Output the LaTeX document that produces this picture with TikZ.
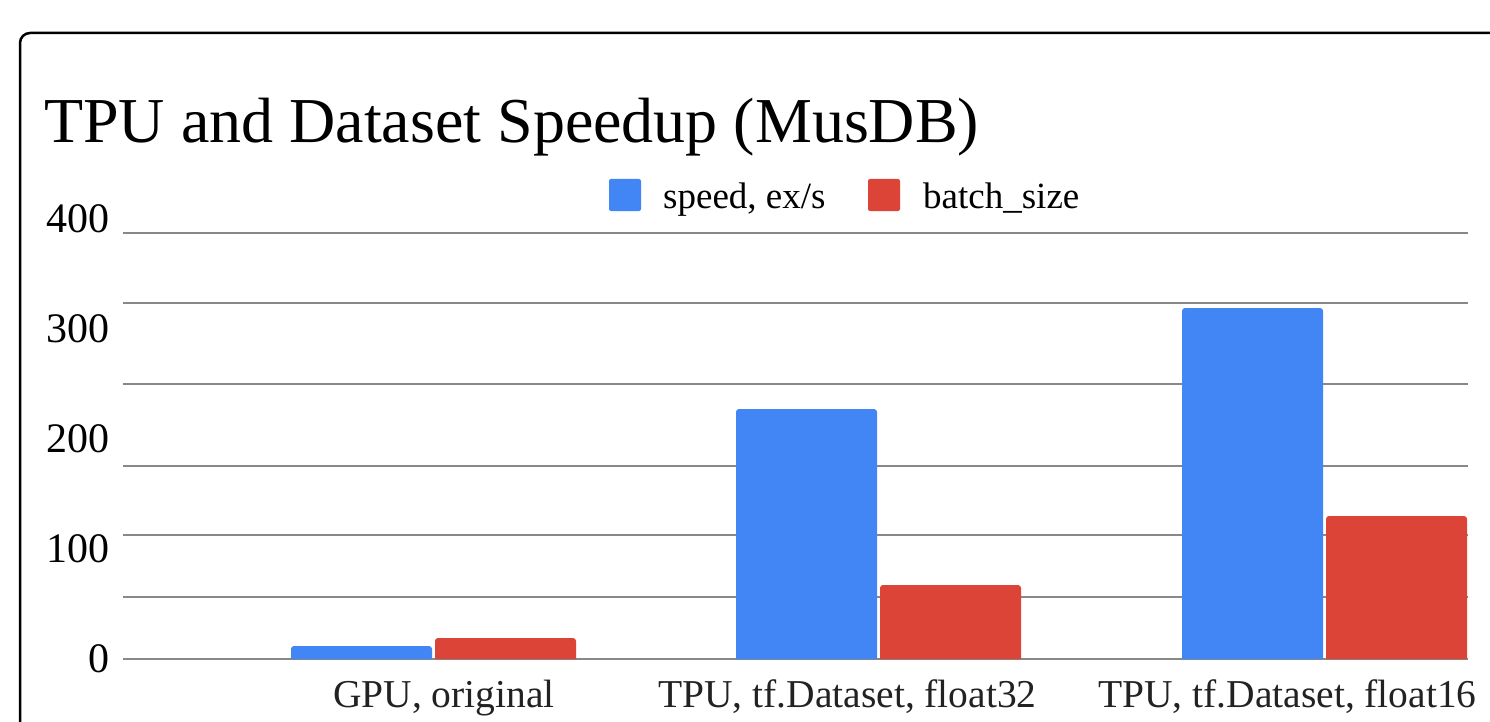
\documentclass[tikz,border=0pt]{standalone}
\usepackage{fontspec}
\setmainfont{Liberation Serif}
\definecolor{gblue}{HTML}{4285F4}
\definecolor{gred}{HTML}{DB4437}
\definecolor{gridc}{HTML}{888888}
\definecolor{labc}{HTML}{222222}
\tikzset{
  grid line/.style={draw=gridc, line width=2pt},
  ylab/.style={anchor=base east, inner sep=0pt, font=\fontsize{42}{42}\selectfont},
  catlab/.style={anchor=base west, inner sep=0pt, text=labc, font=\fontsize{39.5}{39.5}\selectfont},
  leglab/.style={anchor=base west, inner sep=0pt, font=\fontsize{37}{37}\selectfont},
}
\newcommand{\chartbar}[4]{% x1, x2, top, colour
  \fill[#4] (#1,659) [rounded corners=3pt] -- (#1,#3) -- (#2,#3) [sharp corners] -- (#2,659) -- cycle;
}
\begin{document}
\begin{tikzpicture}[x=1pt,y=-1pt]
\useasboundingbox (0,0) rectangle (1490,722);
\clip (0,0) rectangle (1490,722);
\fill[white] (0,0) rectangle (1490,722);
% card border
\draw[black, line width=2.5pt, rounded corners=10pt] (20,33) rectangle (1530,760);
% title
\node[anchor=base west, inner sep=0pt, font=\fontsize{64}{64}\selectfont] (title) at (44,143) {TPU and Dataset Speedup (MusDB)};
% legend
\fill[gblue, rounded corners=2pt] (609,179) rectangle (641,211);
\node[leglab] (lg1) at (663,208) {speed, ex/s};
\fill[gred, rounded corners=2pt] (868,179) rectangle (900,211);
\node[leglab] (lg2) at (923,208) {batch\_size};
% gridlines
\foreach \yy in {232.5,302.5,383.5,465.5,534.5,596.5,659} {
  \draw[grid line] (123,\yy) -- (1468,\yy);
}
% y labels
\node[ylab] (y400) at (110,232) {400};
\node[ylab] (y300) at (110,342) {300};
\node[ylab] (y200) at (110,452) {200};
\node[ylab] (y100) at (110,562) {100};
\node[ylab] (y0) at (110,672) {0};
% bars
\chartbar{291}{432}{646}{gblue}
\chartbar{435}{576}{638}{gred}
\chartbar{736}{877}{409}{gblue}
\chartbar{880}{1021}{585}{gred}
\chartbar{1182}{1323}{308}{gblue}
\chartbar{1326}{1467}{516}{gred}
% category labels
\node[catlab] (c1) at (333,707) {GPU, original};
\node[catlab] (c2) at (658,707) {TPU, tf.Dataset, float32};
\node[catlab] (c3) at (1098,707) {TPU, tf.Dataset, float16};
\end{tikzpicture}
\end{document}
